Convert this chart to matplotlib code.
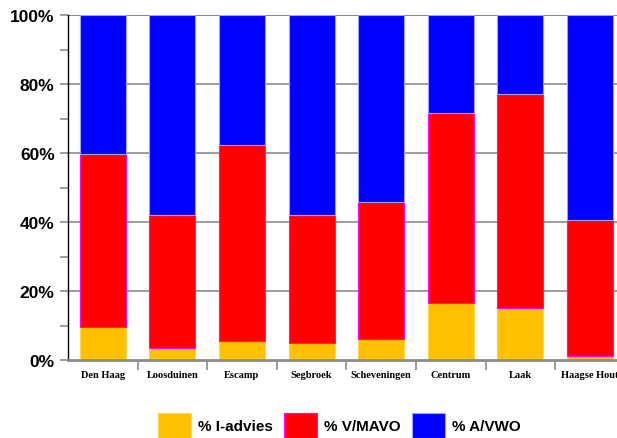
import matplotlib
matplotlib.use("Agg")
import matplotlib.pyplot as plt
import numpy as np

categories = ["Den Haag", "Loosduinen", "Escamp", "Segbroek", "Scheveningen",
              "Centrum", "Laak", "Haagse Hout"]
i_advies = [9.7, 3.5, 5.6, 5.0, 6.1, 16.6, 15.0, 1.3]
v_mavo = [50.0, 38.5, 56.7, 37.0, 39.7, 55.1, 62.0, 39.2]
a_vwo = [40.3, 58.0, 37.7, 58.0, 54.2, 28.3, 23.0, 59.5]
series_names = ["% I-advies", "% V/MAVO", "% A/VWO"]
y_ticks = [0, 20, 40, 60, 80, 100]
y_labels = ["0%", "20%", "40%", "60%", "80%", "100%"]

W, H = 617, 439
fig = plt.figure(figsize=(W / 100, H / 100), dpi=100)
ax_left, ax_right, ax_top, ax_bottom = 68, 617, 16, 361
ax = fig.add_axes([ax_left / W, (H - ax_bottom) / H, (ax_right - ax_left) / W,
                   (ax_bottom - ax_top) / H])

step = 69.6
x = np.arange(len(categories))
bw = 46 / step
i_arr = np.array(i_advies)
v_arr = np.array(v_mavo)
a_arr = np.array(a_vwo)

ax.bar(x, i_arr, width=bw, color="#FFC000", edgecolor="#FFD84A", linewidth=0.8,
       label=series_names[0], zorder=3)
ax.bar(x, v_arr, width=bw, bottom=i_arr, color="#FF0000", edgecolor="#FF00FF",
       linewidth=0.8, label=series_names[1], zorder=3)
ax.bar(x, a_arr, width=bw, bottom=i_arr + v_arr, color="#0000FF",
       edgecolor="#A0A0FF", linewidth=0.8, label=series_names[2], zorder=3)

# grid
for yv in y_ticks[1:]:
    ax.axhline(yv, color="#8c8c8c" if yv < 100 else "#707070", linewidth=1.2,
               zorder=1)

ax.set_yticks(y_ticks)
ax.set_yticklabels(y_labels, fontfamily="Liberation Sans", fontweight="bold",
                   fontsize=12.5)
ax.set_yticks([10, 30, 50, 70, 90], minor=True)
ax.tick_params(axis="y", which="both", length=6, color="#8c8c8c", width=1.2,
               pad=3.6)

ax.set_xticks(x)
ax.set_xticklabels(categories, fontfamily="Liberation Serif",
                   fontweight="bold", fontsize=7.5)
ax.tick_params(axis="x", which="major", length=0, pad=7)
ax.set_xticks(np.arange(len(categories) - 1) + 0.5, minor=True)
ax.tick_params(axis="x", which="minor", length=7, color="#8c8c8c", width=1.2)

ax.set_xlim(-0.5, -0.5 + (ax_right - ax_left) / step)
ax.set_ylim(0, 100)

for s in ["top", "right"]:
    ax.spines[s].set_visible(False)
ax.spines["left"].set_color("black")
ax.spines["left"].set_linewidth(1.0)
ax.spines["bottom"].set_color("#8c8c8c")
ax.spines["bottom"].set_linewidth(2.0)
ax.spines["bottom"].set_zorder(4)

fs = 11
em = fs * 100 / 72
leg = fig.legend(loc="upper left", bbox_to_anchor=(158 / W, (H - 414) / H),
                 ncol=3, frameon=False, borderpad=0, borderaxespad=0,
                 handlelength=33 / em, handleheight=2.14,
                 handletextpad=7 / em,
                 columnspacing=11 / em,
                 prop={"family": "Liberation Sans", "weight": "bold",
                       "size": fs})

fig.savefig("out.png", dpi=100)
